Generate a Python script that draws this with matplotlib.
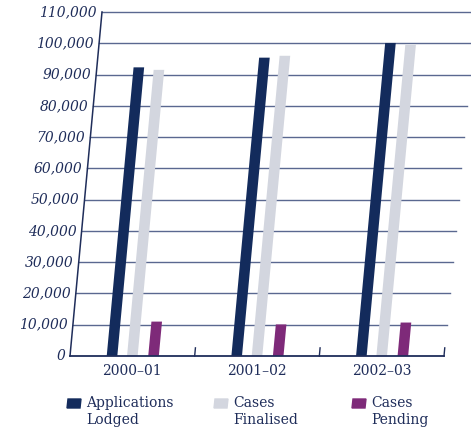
import numpy as np
import matplotlib.pyplot as plt
import matplotlib.transforms as mtransforms
from matplotlib.patches import Polygon

# data
years = ["2000–01", "2001–02", "2002–03"]
lodged = [92300, 95400, 100100]
finalised = [91500, 96000, 99500]
pending = [11000, 10100, 10700]
series_names = ["Applications\nLodged", "Cases\nFinalised", "Cases\nPending"]
yticks = list(range(0, 110001, 10000))

colors = ["#132b5c", "#d3d6df", "#7e2a79"]
navy = "#1f2d5a"
gridcol = "#5a6890"

W, H = 477, 433
fig = plt.figure(figsize=(W / 100, H / 100), dpi=100)
ax = fig.add_axes([70 / W, 77 / H, 374 / W, 344 / H])
ax.axis('off')

# everything leans to the right like in the original (a pixel-space skew)
y0 = 77
k = 32.0 / 344.0
skew = mtransforms.Affine2D().translate(0, -y0).skew(np.arctan(k), 0).translate(0, y0)
tr = ax.transData + skew
clipbox = mtransforms.Bbox([[0, 0], [471, H]])

# gridlines
for v in yticks[1:]:
    ln, = ax.plot([0, 3], [v, v], color=gridcol, lw=1.0, transform=tr)
    ln.set_clip_box(clipbox)

# bars
offsets = [0.337, 0.50, 0.67]
width = 0.085
x = np.arange(len(years))
for vals, off, c in zip([lodged, finalised, pending], offsets, colors):
    ax.bar(x + off, vals, width, color=c, transform=tr, clip_on=False, zorder=3)

# axes lines and ticks
ax.plot([0, 0], [0, 110000], color=navy, lw=1.1, transform=tr, clip_on=False, zorder=4)
ax.plot([0, 3], [0, 0], color=navy, lw=1.3, transform=tr, clip_on=False, zorder=4)
for i in range(1, 4):
    ax.plot([i, i], [0, 2600], color=navy, lw=1.0, transform=tr, clip_on=False, zorder=4)

ax.set_xlim(0, 3)
ax.set_ylim(0, 110000)

# tick labels
lbl_tr = tr + mtransforms.Affine2D().translate(-5, 0)
for v in yticks:
    ax.text(0, v, f"{v:,}", transform=lbl_tr, ha='right', va='center',
            fontsize=10, style='italic', family='DejaVu Serif', color=navy)
xl_tr = tr + mtransforms.Affine2D().translate(0, -15)
for i, yr in enumerate(years):
    ax.text(i + 0.5, 0, yr, transform=xl_tr, ha='center', va='center',
            fontsize=10, family='DejaVu Serif', color=navy)

# legend (drawn by hand so the swatches lean too)
leg_x = [67, 214, 352]
for lx, name, c in zip(leg_x, series_names, colors):
    sq = Polygon([[lx, 25], [lx + 13, 25], [lx + 14, 34], [lx + 1, 34]],
                 closed=True, color=c, transform=mtransforms.IdentityTransform())
    fig.add_artist(sq)
    fig.text((lx + 19) / W, 37 / H, name, ha='left', va='top', fontsize=10,
             family='DejaVu Serif', color=navy, linespacing=1.25)

fig.savefig("out.png", dpi=100)
